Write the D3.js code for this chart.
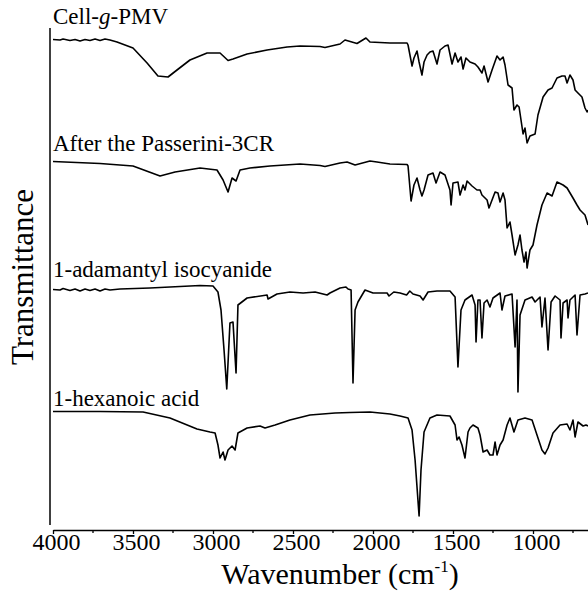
<!DOCTYPE html>
<html lang="en">
<head>
    <meta charset="UTF-8">
    <title>FTIR spectra</title>
    <script src="https://d3js.org/d3.v7.min.js"></script>
    <style>
        body { margin: 0; background: #fff; }
        text { font-family: "Liberation Serif", "Times New Roman", serif; fill: #000; }
    </style>
</head>
<body>
    <div id="chart"></div>

    <script>
        // wavenumber (cm-1), transmittance (a.u., curves stacked)
        var cellPMV = [[4000,97.7],[3956,97.6],[3937,97.8],[3894,97.5],[3862,97.7],[3831,97.4],[3800,97.7],[3769,97.5],[3737,97.8],[3706,97.5],[3675,97.8],[3644,97.6],[3600,97.2],[3500,96.0],[3412,93.0],[3344,90.4],[3281,90.2],[3225,91.6],[3144,93.6],[3037,95.0],[2956,95.0],[2906,93.5],[2875,93.8],[2787,94.8],[2662,95.6],[2537,96.2],[2456,96.4],[2331,96.3],[2300,96.1],[2206,96.8],[2175,97.6],[2100,96.9],[2044,98.0],[2019,97.2],[1894,97.0],[1787,97.0],[1781,96.6],[1756,92.4],[1744,94.0],[1725,95.4],[1712,93.2],[1694,90.6],[1681,93.2],[1662,94.6],[1644,95.2],[1625,95.4],[1600,92.8],[1581,95.6],[1550,96.4],[1531,96.6],[1506,92.8],[1487,95.0],[1469,93.2],[1450,94.2],[1437,91.8],[1419,94.0],[1394,93.2],[1362,92.8],[1344,92.2],[1319,91.0],[1306,92.4],[1281,89.2],[1256,91.6],[1225,94.4],[1206,93.6],[1187,94.2],[1175,92.6],[1156,88.6],[1131,88.0],[1119,83.6],[1100,84.6],[1087,84.2],[1062,78.8],[1050,80.0],[1037,77.0],[1019,78.4],[987,78.8],[969,82.6],[937,86.2],[906,87.6],[881,88.0],[850,90.0],[819,90.4],[800,90.4],[787,89.0],[769,90.6],[750,89.6],[737,87.6],[719,87.0],[694,86.2],[675,84.0],[662,83.2],[656,83.6]];

        var passerini = [[4000,73.3],[3706,72.9],[3500,72.4],[3331,70.4],[3237,71.2],[3081,72.0],[2975,71.6],[2937,69.6],[2906,67.2],[2881,70.0],[2856,69.4],[2831,71.6],[2769,72.0],[2644,72.4],[2456,72.8],[2331,72.5],[2300,72.3],[2206,73.0],[2162,73.2],[2112,72.6],[2019,73.4],[1975,73.2],[1894,72.8],[1787,72.7],[1781,72.4],[1762,65.4],[1744,68.6],[1725,70.0],[1706,67.6],[1694,66.4],[1681,67.6],[1656,70.6],[1625,71.0],[1606,69.0],[1581,71.2],[1550,70.6],[1519,67.6],[1512,64.6],[1500,69.0],[1469,69.2],[1456,66.6],[1437,68.6],[1425,67.6],[1412,69.4],[1381,68.4],[1350,67.6],[1331,67.6],[1319,66.6],[1287,65.6],[1275,64.0],[1237,67.2],[1219,67.0],[1206,65.2],[1187,67.0],[1175,65.6],[1162,60.0],[1144,61.2],[1131,58.6],[1112,54.6],[1094,56.6],[1081,58.6],[1069,55.6],[1056,53.2],[1044,55.2],[1037,52.0],[1019,55.6],[1000,56.6],[975,60.6],[944,64.6],[912,67.0],[881,66.4],[850,69.2],[812,68.6],[787,68.0],[750,66.0],[725,64.6],[706,63.6],[675,62.6],[656,60.6]];

        var adamantyl = [[4000,47.7],[3956,47.6],[3937,47.9],[3894,47.5],[3862,47.8],[3831,47.4],[3800,47.8],[3769,47.5],[3737,47.8],[3706,47.4],[3675,47.8],[3644,47.6],[3581,47.8],[3394,48.0],[3081,48.5],[3000,48.4],[2969,47.2],[2950,43.6],[2931,35.6],[2914,27.8],[2894,41.0],[2875,41.2],[2856,31.0],[2844,44.6],[2787,46.0],[2662,46.6],[2656,45.8],[2600,46.8],[2519,47.2],[2437,47.0],[2362,47.2],[2287,46.6],[2269,47.0],[2206,48.0],[2169,48.2],[2156,47.8],[2137,47.6],[2125,29.0],[2112,43.6],[2094,45.2],[2050,47.6],[2000,47.0],[1912,47.0],[1900,46.4],[1870,47.2],[1831,47.0],[1790,46.6],[1770,47.4],[1750,46.8],[1706,46.4],[1687,45.6],[1656,47.2],[1600,47.4],[1519,47.4],[1487,46.2],[1469,32.2],[1450,43.6],[1425,45.6],[1381,46.6],[1362,44.6],[1356,37.2],[1344,45.6],[1331,45.6],[1319,38.0],[1306,45.0],[1287,45.6],[1269,44.2],[1250,46.0],[1206,47.0],[1194,43.6],[1175,46.4],[1131,46.8],[1112,36.2],[1100,45.6],[1094,27.2],[1081,42.6],[1050,45.6],[1006,46.2],[987,45.2],[956,46.2],[944,40.2],[925,46.0],[906,35.6],[887,45.2],[862,46.4],[831,45.6],[825,38.0],[812,45.0],[787,45.6],[781,42.0],[769,45.6],[737,46.6],[725,38.6],[706,46.6],[675,46.8],[656,47.0]];

        var hexanoic = [[4000,23.3],[3706,23.3],[3437,23.2],[3269,22.0],[3100,19.8],[3019,19.2],[2987,19.0],[2969,16.6],[2956,14.0],[2937,15.2],[2925,13.6],[2906,15.6],[2881,16.4],[2862,15.6],[2844,19.0],[2787,20.0],[2706,20.4],[2675,20.0],[2612,20.6],[2519,21.6],[2394,22.6],[2237,23.0],[2144,23.1],[2019,23.2],[1894,22.8],[1831,22.4],[1781,22.0],[1756,19.6],[1737,13.6],[1712,2.4],[1700,11.6],[1681,19.2],[1644,22.0],[1600,22.6],[1519,22.4],[1487,20.6],[1475,17.6],[1462,18.2],[1444,16.6],[1425,14.0],[1406,19.2],[1394,20.0],[1375,20.6],[1344,20.0],[1331,18.6],[1312,15.2],[1287,15.6],[1269,14.6],[1250,14.6],[1237,17.2],[1225,14.6],[1206,16.6],[1187,17.6],[1162,20.6],[1144,22.0],[1119,19.2],[1094,21.6],[1050,22.0],[1006,21.6],[975,18.6],[944,15.6],[925,14.8],[906,16.0],[875,19.0],[831,20.6],[787,20.8],[769,19.6],[750,21.6],[737,18.2],[719,21.2],[687,20.4],[669,20.6],[656,20.4]];

        var spectra = [cellPMV, passerini, adamantyl, hexanoic];
        // label text parts: [text, italic?]
        var labels = [
            [["Cell-", false], ["g", true], ["-PMV", false]],
            [["After the Passerini-3CR", false]],
            [["1-adamantyl isocyanide", false]],
            [["1-hexanoic acid", false]]
        ];
        var labelBaseline = [100.8, 75.4, 50.2, 24.4]; // label position in transmittance units
        var xTicks = [4000, 3500, 3000, 2500, 2000, 1500, 1000];
        var xMinorTicks = [3750, 3250, 2750, 2250, 1750, 1250, 750];

        var width = 588, height = 592;

        var svg = d3.select("#chart").append("svg")
            .attr("width", width)
            .attr("height", height);

        var x = d3.scaleLinear().domain([4000, 650]).range([53, 589]);
        var y = d3.scaleLinear().domain([0, 100]).range([528, 28]);

        svg.append("clipPath").attr("id", "clip")
            .append("rect").attr("x", 53).attr("y", 0).attr("width", width - 53).attr("height", height);

        var line = d3.line()
            .x(function(d) { return x(d[0]); })
            .y(function(d) { return y(d[1]); });

        svg.append("g").attr("clip-path", "url(#clip)")
            .selectAll("path")
            .data(spectra)
            .join("path")
            .attr("d", line)
            .attr("fill", "none")
            .attr("stroke", "#000")
            .attr("stroke-width", 1.6)
            .attr("stroke-linejoin", "round");

        // series labels
        svg.selectAll("text.lab")
            .data(labels)
            .join("text")
            .attr("class", "lab")
            .attr("x", 53)
            .attr("y", function(d, i) { return y(labelBaseline[i]); })
            .attr("font-size", 23)
            .selectAll("tspan")
            .data(function(d) { return d; })
            .join("tspan")
            .attr("font-style", function(d) { return d[1] ? "italic" : "normal"; })
            .text(function(d) { return d[0]; });

        // x axis
        var xAxis = svg.append("g")
            .attr("transform", "translate(0,530)")
            .call(d3.axisBottom(x).tickValues(xTicks).tickSize(4).tickSizeOuter(0).tickFormat(d3.format("d")));
        xAxis.select(".domain").attr("stroke-width", 1.5);
        xAxis.selectAll(".tick line").attr("stroke-width", 1.3);
        xAxis.selectAll(".tick text")
            .attr("font-family", "Liberation Serif, serif")
            .attr("font-size", 24)
            .attr("dx", 3)
            .attr("dy", "0.55em");

        xAxis.selectAll("line.minor")
            .data(xMinorTicks)
            .join("line")
            .attr("class", "minor")
            .attr("x1", function(d) { return x(d); })
            .attr("x2", function(d) { return x(d); })
            .attr("y1", 0).attr("y2", 3)
            .attr("stroke", "#000").attr("stroke-width", 1.3);

        // y axis line
        svg.append("line")
            .attr("x1", 50).attr("x2", 50)
            .attr("y1", 28).attr("y2", 525)
            .attr("stroke", "#000").attr("stroke-width", 1.5);

        // axis titles
        var xt = svg.append("text")
            .attr("x", 340).attr("y", 584)
            .attr("text-anchor", "middle")
            .attr("font-size", 30);
        xt.append("tspan").text("Wavenumber (cm");
        xt.append("tspan").attr("font-size", 17).attr("dy", -12).text("-1");
        xt.append("tspan").attr("dy", 12).text(")");

        svg.append("text")
            .attr("transform", "translate(33,277) rotate(-90)")
            .attr("text-anchor", "middle")
            .attr("font-size", 31)
            .text("Transmittance");
    </script>
</body>
</html>
